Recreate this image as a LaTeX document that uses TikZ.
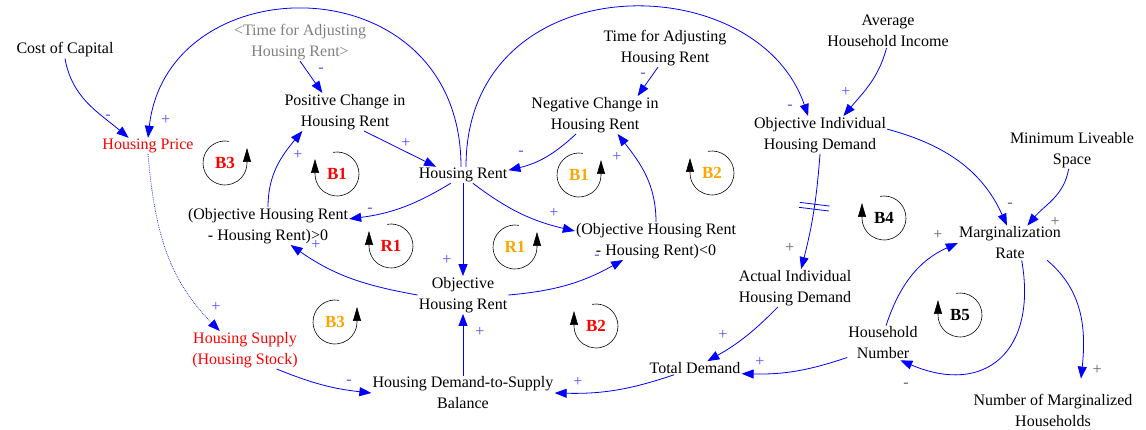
\documentclass[tikz,border=0pt]{standalone}
\usepackage{fontspec}
\setmainfont{Liberation Serif}
\usetikzlibrary{arrows.meta,calc}
\definecolor{linkblue}{RGB}{0,0,255}
\definecolor{polblue}{RGB}{80,80,255}
\definecolor{polgray}{RGB}{100,100,100}
\definecolor{loopred}{RGB}{255,0,0}
\definecolor{looporange}{RGB}{255,165,0}

\begin{document}
\begin{tikzpicture}[x=1pt, y=1pt,
    font=\fontsize{16}{21}\selectfont,
    var/.style={align=center, inner sep=1pt},
    ghost/.style={var, text=gray},
    stock/.style={var, text=red},
    link/.style={-{Triangle[length=12pt,width=9pt]}, draw=linkblue, line width=0.8pt},
    pol/.style={text=polblue, inner sep=0pt},
    polg/.style={text=polgray, inner sep=0pt},
    looplab/.style={font=\fontsize{17}{20}\selectfont\bfseries, inner sep=0pt},
    loopline/.style={-{Triangle[length=14pt,width=8pt]}, line width=0.6pt}
]
\useasboundingbox (0,0) rectangle (1146,430);

% variables
\node[var] (cost) at (65,380) {Cost of Capital};
\node[ghost] (timeg) at (300,388) {<Time for Adjusting\\Housing Rent>};
\node[var] (poschg) at (345,318) {Positive Change in\\Housing Rent};
\node[stock] (hprice) at (148,284) {Housing Price};
\node[var] (hrent) at (463,255) {Housing Rent};
\node[var] (timea) at (665,382) {Time for Adjusting\\Housing Rent};
\node[var] (negchg) at (595,315) {Negative Change in\\Housing Rent};
\node[var] (income) at (888,399) {Average\\Household Income};
\node[var] (objdem) at (820,295) {Objective Individual\\Housing Demand};
\node[var] (minspace) at (1072,280) {Minimum Liveable\\Space};
\node[var] (margrate) at (1010,187) {Marginalization\\Rate};
\node[var] (gappos) at (268,204) {(Objective Housing Rent\\- Housing Rent)>0};
\node[var] (gapneg) at (656,189) {(Objective Housing Rent\\- Housing Rent)<0};
\node[var] (objrent) at (463,135) {Objective\\Housing Rent};
\node[var] (actdem) at (795,142) {Actual Individual\\Housing Demand};
\node[stock] (hsupply) at (245,80) {Housing Supply\\(Housing Stock)};
\node[var] (balance) at (463,37) {Housing Demand-to-Supply\\Balance};
\node[var] (totdem) at (695,62) {Total Demand};
\node[var] (hhnum) at (883,87) {Household\\Number};
\node[var] (nummarg) at (1053,20) {Number of Marginalized\\Households};

% causal links
\draw[link] (cost.south) to[out=-80,in=140] (hprice.157);
\draw[link] ([xshift=-2pt]hrent.north) .. controls +(0,205) and +(20,175) .. (hprice.north);
\draw[link] ([xshift=3pt]hrent.north) .. controls +(0,203) and +(-52,152) .. (objdem.122);
\draw[link] (timeg.south) -- (poschg.140);
\draw[link] (poschg.-45) -- (hrent.163);
\draw[link] (timea.-110) -- (negchg.24);
\draw[link] (negchg.-135) to[bend left=15] (hrent.6);
\draw[link] (hrent.-146) to[bend left=12] (gappos.5);
\draw[link] (gappos.north) to[out=90,in=-130] (poschg.-156);
\draw[link] (objrent.west) to[out=170,in=-35] (gappos.-40);
\draw[link] (hrent.south) -- (objrent.north);
\draw[link] (hrent.-40) to[bend right=12] (gapneg.173);
\draw[link] (objrent.east) to[bend right=12] (gapneg.-150);
\draw[link] (gapneg.north) to[out=90,in=-52] (negchg.-40);
\draw[link, densely dotted, line width=0.6pt] (hprice.south) to[out=-85,in=135] (hsupply.143);
\draw[link] (hsupply.-31) to[bend right=8] (balance.west);
\draw[link] (balance.north) -- (objrent.south);
\draw[link] (totdem.-162) to[bend left=10] (balance.east);
\draw[link] (actdem.-132) to[bend left=8] (totdem.29);
\draw[link] (objdem.south) to[bend left=5] coordinate[pos=.45] (lag) (actdem.72);
\begin{scope}[shift={(lag)}, rotate=-7]
  \draw[linkblue, line width=0.8pt] (-15,2.5) -- (15,2.5) (-15,-2.5) -- (15,-2.5);
\end{scope}
\draw[link] (income.-95) to[out=-105,in=50] (objdem.39);
\draw[link] (objdem.5) to[out=-15,in=114] (margrate.100);
\draw[link] (minspace.-100) to[out=-100,in=50] (margrate.45);
\draw[link] (hhnum.80) to[out=72,in=-156] (margrate.west);
\draw[link] (margrate.-56) to[out=-80,in=-23,looseness=1.5] (hhnum.-45);
\draw[link] (margrate.-25) to[out=-40,in=84] ([shift={(28,14)}]nummarg.north);
\draw[link] (hhnum.-158) to[bend left=10] (totdem.-7);

% polarities
\node[pol] (p1) at (108,313) {-};
\node[pol] (p2) at (166,310) {+};
\node[pol] (p3) at (790,323) {-};
\node[pol] (p4) at (321,360) {-};
\node[pol] (p5) at (406,287) {+};
\node[pol] (p6) at (643,355) {-};
\node[pol] (p7) at (521,277) {-};
\node[pol] (p8) at (370,220) {-};
\node[pol] (p9) at (298,275) {+};
\node[pol] (p10) at (316,185) {+};
\node[pol] (p11) at (447,170) {+};
\node[pol] (p12) at (554,217) {+};
\node[pol] (p13) at (597,173) {-};
\node[pol] (p14) at (617,273) {+};
\node[pol] (p15) at (216,123) {+};
\node[pol] (p16) at (349,48) {-};
\node[pol] (p17) at (480,98) {+};
\node[pol] (p18) at (578,48) {+};
\node[pol] (p19) at (723,95) {+};
\node[polg] (p20) at (790,182) {+};
\node[pol] (p21) at (846,338) {+};
\node[polg] (p22) at (1010,225) {-};
\node[polg] (p23) at (1055,208) {+};
\node[polg] (p24) at (938,195) {+};
\node[polg] (p25) at (906,45) {-};
\node[polg] (p26) at (1097,60) {+};
\node[pol] (p27) at (760,68) {+};

% loop markers
\foreach \lbl/\px/\py/\col/\sa/\ea [count=\i] in {
    B3/225/267/loopred/80/360, B1/337/256/loopred/100/-180,
    R1/391/184/loopred/100/-180, B1/579/255/looporange/80/360,
    B2/712/257/looporange/100/-180, R1/515/183/looporange/80/360,
    B3/335/108/looporange/80/360, B2/596/104/loopred/100/-180,
    B4/884/212/black/100/-180, B5/960/115/black/100/-180}
{
  \node[looplab, text=\col] (loop\i) at (\px,\py) {\lbl};
  \draw[loopline] (loop\i.center) ++(\sa:22) arc[start angle=\sa, end angle=\ea, radius=22] -- ++(0,15);
}
\end{tikzpicture}
\end{document}
